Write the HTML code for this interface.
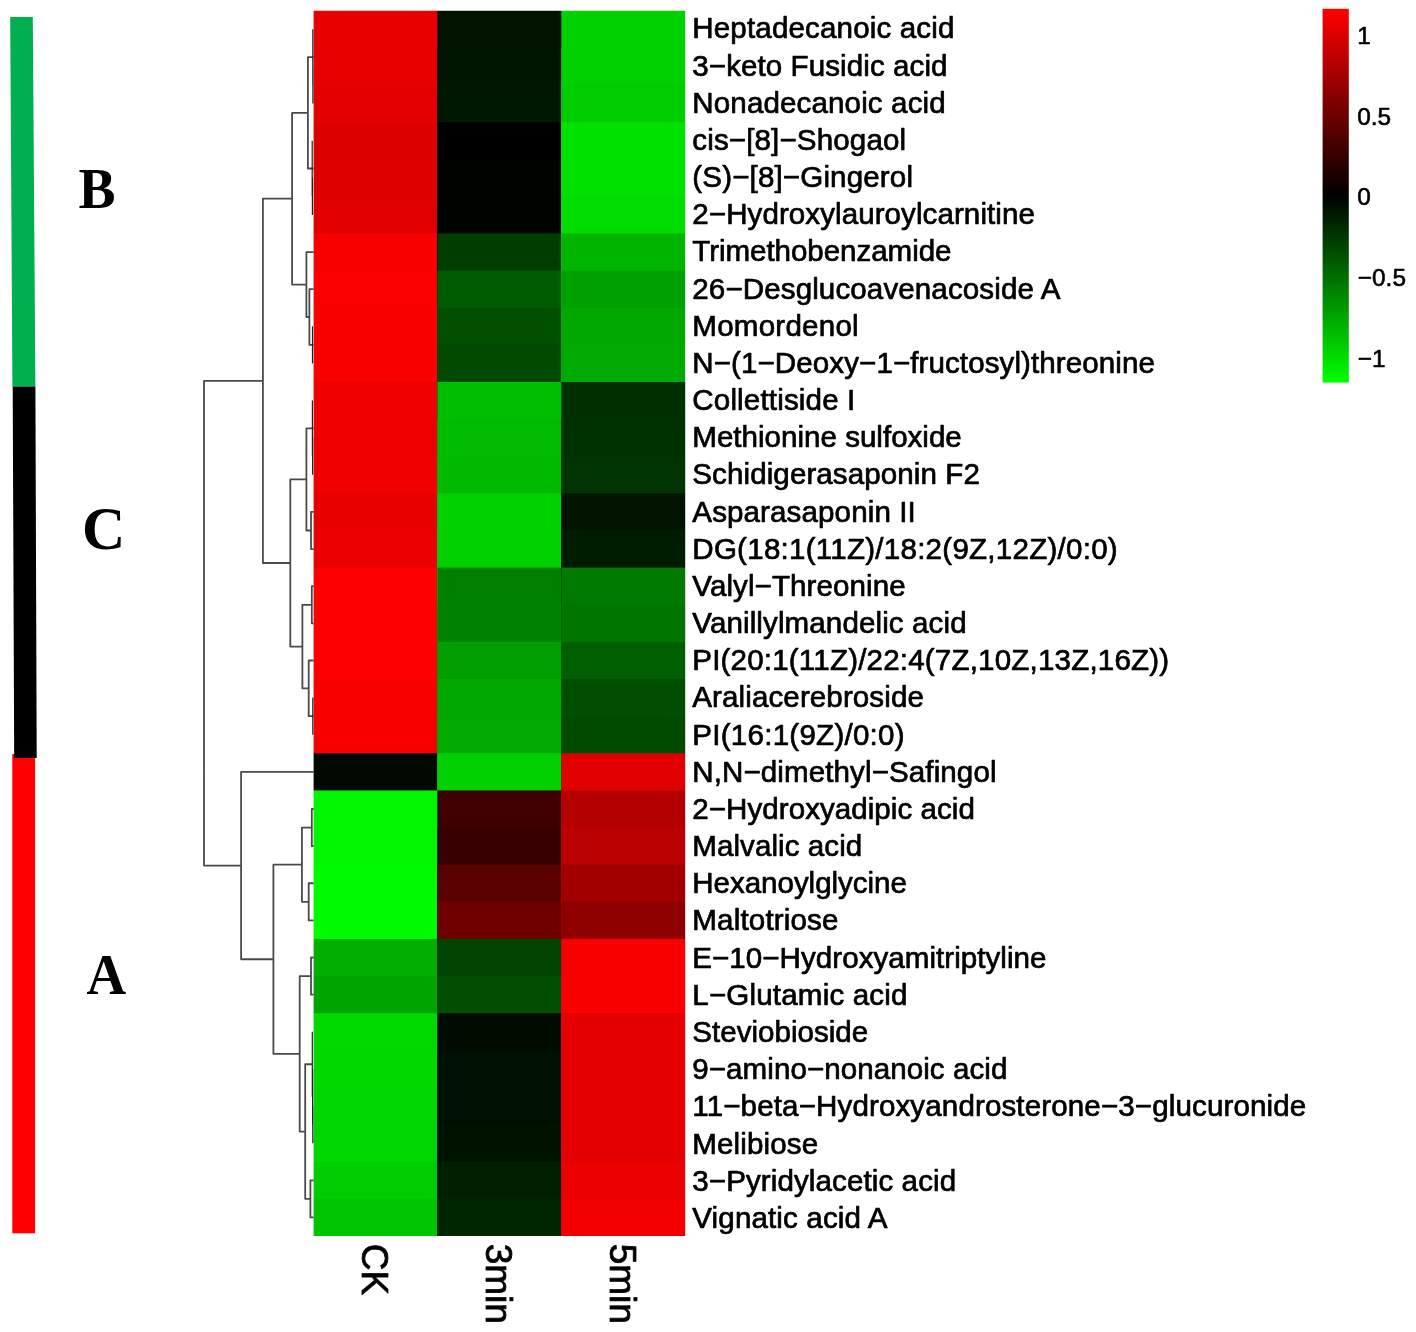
<!DOCTYPE html>
<html><head><meta charset="utf-8"><title>Heatmap</title>
<style>
html,body{margin:0;padding:0;background:#fff;}
body{width:1416px;height:1332px;overflow:hidden;}
svg{display:block;}
</style></head><body>
<svg width="1416" height="1332" viewBox="0 0 1416 1332">
<defs><linearGradient id="lg" x1="0" y1="0" x2="0" y2="1">
<stop offset="0" stop-color="#ff0000"/><stop offset="0.5" stop-color="#000000"/><stop offset="1" stop-color="#00ff00"/>
</linearGradient></defs>
<rect width="1416" height="1332" fill="#fff"/>
<!-- group colour bars -->
<polygon points="10.2,17 32.8,17 35.4,386.6 12.4,386.6" fill="#00b050"/>
<rect x="12.3" y="754" width="22.8" height="479.3" fill="#ff0000"/>
<polygon points="12.7,386.6 35.4,386.6 36.7,757.9 14.2,757.9" fill="#000"/>
<g font-family="'Liberation Serif', serif" font-weight="bold" font-size="55" fill="#000">
<text transform="translate(78.4,207.9) scale(1.01,1.053)">B</text>
<text transform="translate(82.1,549.2) scale(1.09,1.125)">C</text>
<text transform="translate(86.5,993.8) scale(1.0,1.053)">A</text>
</g>
<!-- legend -->
<rect x="1322.6" y="8.8" width="26.2" height="373.8" fill="url(#lg)"/>
<g font-family="'Liberation Sans', sans-serif" font-size="24.4" fill="#000" stroke="#000" stroke-width="0.6" stroke-linejoin="round">
<text x="1357.2" y="44.3">1</text>
<text x="1357.2" y="125">0.5</text>
<text x="1357.2" y="204.6">0</text>
<text x="1357.8" y="286">−0.5</text>
<text x="1357.8" y="366.5">−1</text>
</g>
<g>
<rect x="310.60" y="7.70" width="377.61" height="1231.29" fill="#e60000"/>
<rect x="310.60" y="47.83" width="377.61" height="1191.16" fill="#e60000"/>
<rect x="310.60" y="84.96" width="377.61" height="1154.03" fill="#e40000"/>
<rect x="310.60" y="122.09" width="377.61" height="1116.90" fill="#dc0000"/>
<rect x="310.60" y="159.22" width="377.61" height="1079.77" fill="#de0000"/>
<rect x="310.60" y="196.35" width="377.61" height="1042.64" fill="#e00000"/>
<rect x="310.60" y="233.48" width="377.61" height="1005.51" fill="#f80000"/>
<rect x="310.60" y="270.61" width="377.61" height="968.38" fill="#fc0000"/>
<rect x="310.60" y="307.74" width="377.61" height="931.25" fill="#fa0000"/>
<rect x="310.60" y="344.87" width="377.61" height="894.12" fill="#fa0000"/>
<rect x="310.60" y="382.00" width="377.61" height="856.99" fill="#f00000"/>
<rect x="310.60" y="419.13" width="377.61" height="819.86" fill="#f00000"/>
<rect x="310.60" y="456.26" width="377.61" height="782.73" fill="#f00000"/>
<rect x="310.60" y="493.39" width="377.61" height="745.60" fill="#e80000"/>
<rect x="310.60" y="530.52" width="377.61" height="708.47" fill="#ea0000"/>
<rect x="310.60" y="567.65" width="377.61" height="671.34" fill="#fd0000"/>
<rect x="310.60" y="604.78" width="377.61" height="634.21" fill="#fd0000"/>
<rect x="310.60" y="641.91" width="377.61" height="597.08" fill="#fd0000"/>
<rect x="310.60" y="679.04" width="377.61" height="559.95" fill="#f80000"/>
<rect x="310.60" y="716.17" width="377.61" height="522.82" fill="#f80000"/>
<rect x="310.60" y="753.30" width="377.61" height="485.69" fill="#000800"/>
<rect x="310.60" y="790.43" width="377.61" height="448.56" fill="#00f500"/>
<rect x="310.60" y="827.56" width="377.61" height="411.43" fill="#00f600"/>
<rect x="310.60" y="864.69" width="377.61" height="374.30" fill="#00fa00"/>
<rect x="310.60" y="901.82" width="377.61" height="337.17" fill="#00fa00"/>
<rect x="310.60" y="938.95" width="377.61" height="300.04" fill="#00af00"/>
<rect x="310.60" y="976.08" width="377.61" height="262.91" fill="#00a500"/>
<rect x="310.60" y="1013.21" width="377.61" height="225.78" fill="#00da00"/>
<rect x="310.60" y="1050.34" width="377.61" height="188.65" fill="#00d800"/>
<rect x="310.60" y="1087.47" width="377.61" height="151.52" fill="#00d700"/>
<rect x="310.60" y="1124.60" width="377.61" height="114.39" fill="#00d600"/>
<rect x="310.60" y="1161.73" width="377.61" height="77.26" fill="#00cd00"/>
<rect x="310.60" y="1198.86" width="377.61" height="40.13" fill="#00c400"/>
<rect x="437.47" y="7.70" width="250.74" height="1231.29" fill="#001400"/>
<rect x="437.47" y="47.83" width="250.74" height="1191.16" fill="#001600"/>
<rect x="437.47" y="84.96" width="250.74" height="1154.03" fill="#001800"/>
<rect x="437.47" y="122.09" width="250.74" height="1116.90" fill="#000000"/>
<rect x="437.47" y="159.22" width="250.74" height="1079.77" fill="#000200"/>
<rect x="437.47" y="196.35" width="250.74" height="1042.64" fill="#000400"/>
<rect x="437.47" y="233.48" width="250.74" height="1005.51" fill="#003e00"/>
<rect x="437.47" y="270.61" width="250.74" height="968.38" fill="#005c00"/>
<rect x="437.47" y="307.74" width="250.74" height="931.25" fill="#005000"/>
<rect x="437.47" y="344.87" width="250.74" height="894.12" fill="#004b00"/>
<rect x="437.47" y="382.00" width="250.74" height="856.99" fill="#00be00"/>
<rect x="437.47" y="419.13" width="250.74" height="819.86" fill="#00bc00"/>
<rect x="437.47" y="456.26" width="250.74" height="782.73" fill="#00ba00"/>
<rect x="437.47" y="493.39" width="250.74" height="745.60" fill="#00d200"/>
<rect x="437.47" y="530.52" width="250.74" height="708.47" fill="#00d000"/>
<rect x="437.47" y="567.65" width="250.74" height="671.34" fill="#008000"/>
<rect x="437.47" y="604.78" width="250.74" height="634.21" fill="#008200"/>
<rect x="437.47" y="641.91" width="250.74" height="597.08" fill="#009e00"/>
<rect x="437.47" y="679.04" width="250.74" height="559.95" fill="#00a800"/>
<rect x="437.47" y="716.17" width="250.74" height="522.82" fill="#00aa00"/>
<rect x="437.47" y="753.30" width="250.74" height="485.69" fill="#00d000"/>
<rect x="437.47" y="790.43" width="250.74" height="448.56" fill="#3e0000"/>
<rect x="437.47" y="827.56" width="250.74" height="411.43" fill="#370000"/>
<rect x="437.47" y="864.69" width="250.74" height="374.30" fill="#5a0000"/>
<rect x="437.47" y="901.82" width="250.74" height="337.17" fill="#6e0000"/>
<rect x="437.47" y="938.95" width="250.74" height="300.04" fill="#004400"/>
<rect x="437.47" y="976.08" width="250.74" height="262.91" fill="#004e00"/>
<rect x="437.47" y="1013.21" width="250.74" height="225.78" fill="#000c00"/>
<rect x="437.47" y="1050.34" width="250.74" height="188.65" fill="#001000"/>
<rect x="437.47" y="1087.47" width="250.74" height="151.52" fill="#001000"/>
<rect x="437.47" y="1124.60" width="250.74" height="114.39" fill="#001200"/>
<rect x="437.47" y="1161.73" width="250.74" height="77.26" fill="#002000"/>
<rect x="437.47" y="1198.86" width="250.74" height="40.13" fill="#002600"/>
<rect x="561.34" y="7.70" width="126.87" height="1231.29" fill="#00d200"/>
<rect x="561.34" y="47.83" width="126.87" height="1191.16" fill="#00d000"/>
<rect x="561.34" y="84.96" width="126.87" height="1154.03" fill="#00cd00"/>
<rect x="561.34" y="122.09" width="126.87" height="1116.90" fill="#00e100"/>
<rect x="561.34" y="159.22" width="126.87" height="1079.77" fill="#00e100"/>
<rect x="561.34" y="196.35" width="126.87" height="1042.64" fill="#00de00"/>
<rect x="561.34" y="233.48" width="126.87" height="1005.51" fill="#00b400"/>
<rect x="561.34" y="270.61" width="126.87" height="968.38" fill="#00a000"/>
<rect x="561.34" y="307.74" width="126.87" height="931.25" fill="#00a800"/>
<rect x="561.34" y="344.87" width="126.87" height="894.12" fill="#00aa00"/>
<rect x="561.34" y="382.00" width="126.87" height="856.99" fill="#003000"/>
<rect x="561.34" y="419.13" width="126.87" height="819.86" fill="#003200"/>
<rect x="561.34" y="456.26" width="126.87" height="782.73" fill="#003400"/>
<rect x="561.34" y="493.39" width="126.87" height="745.60" fill="#001400"/>
<rect x="561.34" y="530.52" width="126.87" height="708.47" fill="#001c00"/>
<rect x="561.34" y="567.65" width="126.87" height="671.34" fill="#007a00"/>
<rect x="561.34" y="604.78" width="126.87" height="634.21" fill="#007600"/>
<rect x="561.34" y="641.91" width="126.87" height="597.08" fill="#005f00"/>
<rect x="561.34" y="679.04" width="126.87" height="559.95" fill="#004e00"/>
<rect x="561.34" y="716.17" width="126.87" height="522.82" fill="#004b00"/>
<rect x="561.34" y="753.30" width="126.87" height="485.69" fill="#e10000"/>
<rect x="561.34" y="790.43" width="126.87" height="448.56" fill="#b40000"/>
<rect x="561.34" y="827.56" width="126.87" height="411.43" fill="#ba0000"/>
<rect x="561.34" y="864.69" width="126.87" height="374.30" fill="#a20000"/>
<rect x="561.34" y="901.82" width="126.87" height="337.17" fill="#8e0000"/>
<rect x="561.34" y="938.95" width="126.87" height="300.04" fill="#fa0000"/>
<rect x="561.34" y="976.08" width="126.87" height="262.91" fill="#fa0000"/>
<rect x="561.34" y="1013.21" width="126.87" height="225.78" fill="#e40000"/>
<rect x="561.34" y="1050.34" width="126.87" height="188.65" fill="#e40000"/>
<rect x="561.34" y="1087.47" width="126.87" height="151.52" fill="#e40000"/>
<rect x="561.34" y="1124.60" width="126.87" height="114.39" fill="#e40000"/>
<rect x="561.34" y="1161.73" width="126.87" height="77.26" fill="#eb0000"/>
<rect x="561.34" y="1198.86" width="126.87" height="40.13" fill="#f20000"/>
<path fill="#fff" fill-rule="evenodd" d="M308.60 5.70H690.21V1240.99H308.60Z M313.60 10.70H685.21V1235.99H313.60Z"/>
</g>
<g font-family="'Liberation Sans', sans-serif" font-size="29.55" fill="#000" stroke="#000" stroke-width="0.7" stroke-linejoin="round">
<text id="L0" x="692.3" y="38.40" textLength="262.1" lengthAdjust="spacing">Heptadecanoic acid</text>
<text id="L1" x="692.3" y="75.57" textLength="255.2" lengthAdjust="spacing">3−keto Fusidic acid</text>
<text id="L2" x="692.3" y="112.74" textLength="253.4" lengthAdjust="spacing">Nonadecanoic acid</text>
<text id="L3" x="692.3" y="149.91" textLength="213.8" lengthAdjust="spacing">cis−[8]−Shogaol</text>
<text id="L4" x="692.3" y="187.08" textLength="220.7" lengthAdjust="spacing">(S)−[8]−Gingerol</text>
<text id="L5" x="692.3" y="224.25" textLength="342.6" lengthAdjust="spacing">2−Hydroxylauroylcarnitine</text>
<text id="L6" x="692.3" y="261.42" textLength="259.2" lengthAdjust="spacing">Trimethobenzamide</text>
<text id="L7" x="692.3" y="298.59" textLength="368.1" lengthAdjust="spacing">26−Desglucoavenacoside A</text>
<text id="L8" x="692.3" y="335.76" textLength="166.4" lengthAdjust="spacing">Momordenol</text>
<text id="L9" x="692.3" y="372.93" textLength="462.6" lengthAdjust="spacing">N−(1−Deoxy−1−fructosyl)threonine</text>
<text id="L10" x="692.3" y="410.10" textLength="163.0" lengthAdjust="spacing">Collettiside I</text>
<text id="L11" x="692.3" y="447.27" textLength="269.5" lengthAdjust="spacing">Methionine sulfoxide</text>
<text id="L12" x="692.3" y="484.44" textLength="287.6" lengthAdjust="spacing">Schidigerasaponin F2</text>
<text id="L13" x="692.3" y="521.61" textLength="223.5" lengthAdjust="spacing">Asparasaponin II</text>
<text id="L14" x="692.3" y="558.78" textLength="425.4" lengthAdjust="spacing">DG(18:1(11Z)/18:2(9Z,12Z)/0:0)</text>
<text id="L15" x="692.3" y="595.95" textLength="213.3" lengthAdjust="spacing">Valyl−Threonine</text>
<text id="L16" x="692.3" y="633.12" textLength="274.3" lengthAdjust="spacing">Vanillylmandelic acid</text>
<text id="L17" x="692.3" y="670.29" textLength="476.8" lengthAdjust="spacing">PI(20:1(11Z)/22:4(7Z,10Z,13Z,16Z))</text>
<text id="L18" x="692.3" y="707.46" textLength="231.6" lengthAdjust="spacing">Araliacerebroside</text>
<text id="L19" x="692.3" y="744.63" textLength="212.3" lengthAdjust="spacing">PI(16:1(9Z)/0:0)</text>
<text id="L20" x="692.3" y="781.80" textLength="304.2" lengthAdjust="spacing">N,N−dimethyl−Safingol</text>
<text id="L21" x="692.3" y="818.97" textLength="282.6" lengthAdjust="spacing">2−Hydroxyadipic acid</text>
<text id="L22" x="692.3" y="856.14" textLength="169.9" lengthAdjust="spacing">Malvalic acid</text>
<text id="L23" x="692.3" y="893.31" textLength="214.6" lengthAdjust="spacing">Hexanoylglycine</text>
<text id="L24" x="692.3" y="930.48" textLength="146.2" lengthAdjust="spacing">Maltotriose</text>
<text id="L25" x="692.3" y="967.65" textLength="354.2" lengthAdjust="spacing">E−10−Hydroxyamitriptyline</text>
<text id="L26" x="692.3" y="1004.82" textLength="215.2" lengthAdjust="spacing">L−Glutamic acid</text>
<text id="L27" x="692.3" y="1041.99" textLength="175.9" lengthAdjust="spacing">Steviobioside</text>
<text id="L28" x="692.3" y="1079.16" textLength="315.1" lengthAdjust="spacing">9−amino−nonanoic acid</text>
<text id="L29" x="692.3" y="1116.33" textLength="614.0" lengthAdjust="spacing">11−beta−Hydroxyandrosterone−3−glucuronide</text>
<text id="L30" x="692.3" y="1153.50" textLength="125.8" lengthAdjust="spacing">Melibiose</text>
<text id="L31" x="692.3" y="1190.67" textLength="263.8" lengthAdjust="spacing">3−Pyridylacetic acid</text>
<text id="L32" x="692.3" y="1227.84" textLength="195.2" lengthAdjust="spacing">Vignatic acid A</text>
</g>
<g font-family="'Liberation Sans', sans-serif" font-size="37" fill="#000" stroke="#000" stroke-width="0.8" stroke-linejoin="round">
<text transform="translate(362.04,1243.7) rotate(90)" x="0" y="0">CK</text>
<text transform="translate(485.91,1243.7) rotate(90)" x="0" y="0">3min</text>
<text transform="translate(609.78,1243.7) rotate(90)" x="0" y="0">5min</text>
</g>
<path d="M313.60 57.11 H307.90 V168.50 H313.60 M313.60 289.18 H309.40 V344.87 H313.60 M313.60 252.05 H306.40 V317.02 H309.40 M307.90 112.81 H292.10 V284.53 H306.40 M313.60 511.96 H311.00 V549.09 H313.60 M313.60 428.41 H306.40 V530.52 H311.00 M313.60 586.22 H311.80 V623.35 H313.60 M313.60 660.48 H308.70 V716.17 H313.60 M311.80 604.78 H302.40 V688.32 H308.70 M306.40 479.47 H290.30 V646.55 H302.40 M292.10 198.67 H262.90 V563.01 H290.30 M313.60 809.00 H311.80 V846.13 H313.60 M313.60 883.26 H308.70 V920.39 H313.60 M311.80 827.56 H301.90 V901.82 H308.70 M313.60 957.52 H311.00 V994.65 H313.60 M313.60 1180.30 H310.40 V1217.43 H313.60 M312.30 1064.26 H305.20 V1198.86 H310.40 M311.00 976.08 H299.70 V1131.56 H305.20 M301.90 864.69 H273.40 V1053.82 H299.70 M313.60 771.87 H241.10 V959.26 H273.40 M262.90 380.84 H204.00 V865.56 H241.10" fill="none" stroke="#4a4a4a" stroke-width="1.8" stroke-linejoin="round"/>
<path d="M312.90 66.40 V103.53 M312.80 29.27 V84.96 M312.40 177.78 V214.91 M312.20 140.66 V196.35 M312.50 326.31 V363.44 M312.60 437.69 V474.83 M312.40 400.56 V456.26 M312.80 697.61 V734.74 M312.80 1106.04 V1143.17 M312.60 1068.91 V1124.60 M312.30 1031.78 V1096.75" fill="none" stroke="#222" stroke-width="1.2"/>
</svg>
</body></html>
